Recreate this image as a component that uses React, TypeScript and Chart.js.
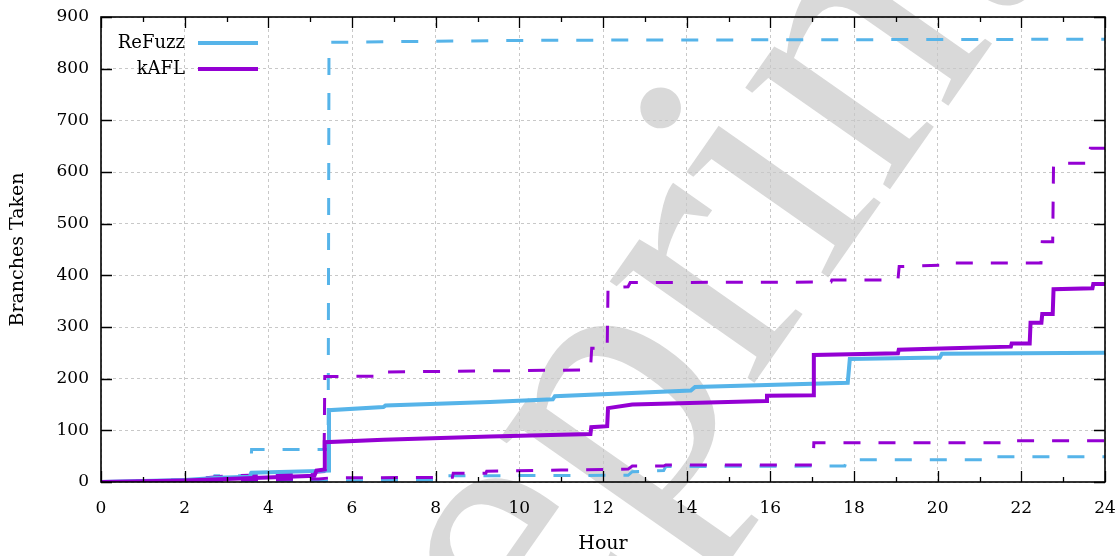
import { useEffect, useRef } from 'react';
import { Chart, registerables } from 'chart.js';

Chart.register(...registerables);

// ---- data ----
const refuzzMedianHours = [0, 1, 2, 2.8, 3.55, 3.6, 5.45, 5.45, 6.75, 6.8, 9.3, 10.8, 10.85, 14.1, 14.2, 17.85, 17.9, 20.05, 20.1, 24];
const refuzzMedianValues = [0, 2, 4, 8, 10, 18, 22, 139, 145, 148, 155, 160, 166, 177, 184, 192, 238, 241, 248, 250];

const kaflMedianHours = [0, 2, 3, 5.1, 5.15, 5.35, 5.35, 6.75, 9.3, 11.7, 11.72, 12.1, 12.12, 12.7, 15.9, 15.92, 17.02, 17.04, 19.05, 19.07, 20.3, 21.75, 21.77, 22.2, 22.22, 22.48, 22.5, 22.75, 22.77, 23.7, 23.72, 24];
const kaflMedianValues = [0, 3, 6, 12, 22, 24, 77, 82, 88, 93, 106, 108, 143, 150, 157, 167, 168, 246, 249, 256, 259, 262, 268, 268, 308, 308, 325, 325, 373, 375, 383, 383];

const refuzzMaxHours = [0, 1, 2.7, 2.72, 3.58, 3.6, 5.43, 5.45, 10.5, 24];
const refuzzMaxValues = [0, 2, 5, 12, 12, 63, 63, 851, 855, 857];

const kaflMaxHours = [0, 2, 3, 4.3, 5.33, 5.35, 6.75, 6.77, 11.7, 11.73, 12.1, 12.12, 12.6, 12.65, 17.45, 17.47, 19.05, 19.08, 20.3, 20.32, 22.47, 22.5, 22.75, 22.77, 23.62, 23.65, 24];
const kaflMaxValues = [0, 4, 12, 15, 20, 204, 205, 213, 217, 259, 259, 375, 378, 386, 387, 391, 391, 417, 420, 424, 424, 465, 465, 617, 617, 646, 646];

const refuzzMinHours = [0, 5.5, 8.2, 8.25, 12.6, 12.7, 13.45, 13.5, 17.78, 17.8, 17.98, 18, 21.18, 21.2, 24];
const refuzzMinValues = [0, 2, 4, 12, 13, 20, 22, 30, 31, 36, 36, 43, 43, 49, 49];

const kaflMinHours = [0, 3, 5.2, 5.5, 8.4, 8.42, 9.2, 9.22, 11, 12.6, 12.7, 13.45, 13.5, 17.02, 17.04, 21.7, 21.72, 24];
const kaflMinValues = [0, 4, 6, 8, 9, 17, 17, 21, 23, 25, 31, 31, 33, 33, 76, 76, 80, 80];

const xMajorTicks = [0, 2, 4, 6, 8, 10, 12, 14, 16, 18, 20, 22, 24];
const xMinorTicks = [1, 3, 5, 7, 9, 11, 13, 15, 17, 19, 21, 23];
const yTicks = [0, 100, 200, 300, 400, 500, 600, 700, 800, 900];

const legendLabels = ['ReFuzz', 'kAFL'];
const xTitle = 'Hour';
const yTitle = 'Branches Taken';
const watermarkText = 'Preprint';

const BLUE = '#56b4e9';
const PURPLE = '#9400d3';
const legendColors = [BLUE, PURPLE];

const zip = (xs: number[], ys: number[]) => xs.map((x, i) => ({ x, y: ys[i] }));

const watermarkPlugin = {
  id: 'watermark',
  beforeDraw(chart: any) {
    const ctx = chart.ctx as CanvasRenderingContext2D;
    ctx.save();
    ctx.fillStyle = '#ffffff';
    ctx.fillRect(0, 0, chart.width, chart.height);
    const S = 385;
    ctx.font = `${S}px "Liberation Serif"`;
    const th = (-55 * Math.PI) / 180;
    const c = Math.cos(th);
    const s = Math.sin(th);
    const pre = ctx.measureText('Prepr').width;
    const iw = ctx.measureText('i').width;
    const ui = pre + iw / 2;
    const dotH = 0.635 * S;
    const ox = 654 - ui * c - dotH * s;
    const oy = 100 - ui * s + dotH * c;
    ctx.translate(ox, oy);
    ctx.rotate(th);
    ctx.fillStyle = '#d9d9d9';
    ctx.textAlign = 'left';
    ctx.textBaseline = 'alphabetic';
    ctx.fillText(watermarkText, 0, 0);
    ctx.restore();
  },
};

const framePlugin = {
  id: 'frame',
  afterDraw(chart: any) {
    const ctx = chart.ctx as CanvasRenderingContext2D;
    const xs = chart.scales.x;
    const ys = chart.scales.y;
    const { left, right, top, bottom } = chart.chartArea;
    ctx.save();
    ctx.strokeStyle = '#000';
    ctx.lineWidth = 1.3;
    ctx.beginPath();
    xMajorTicks.forEach((h) => {
      const px = Math.round(xs.getPixelForValue(h)) + 0.5;
      ctx.moveTo(px, bottom);
      ctx.lineTo(px, bottom - 11);
      ctx.moveTo(px, top);
      ctx.lineTo(px, top + 11);
    });
    xMinorTicks.forEach((h) => {
      const px = Math.round(xs.getPixelForValue(h)) + 0.5;
      ctx.moveTo(px, bottom);
      ctx.lineTo(px, bottom - 5);
      ctx.moveTo(px, top);
      ctx.lineTo(px, top + 5);
    });
    yTicks.forEach((v) => {
      const py = Math.round(ys.getPixelForValue(v)) + 0.5;
      ctx.moveTo(left, py);
      ctx.lineTo(left + 11, py);
      ctx.moveTo(right, py);
      ctx.lineTo(right - 11, py);
    });
    ctx.stroke();
    ctx.lineWidth = 1.6;
    ctx.strokeRect(left, top, right - left, bottom - top);

    // legend
    ctx.font = '18px "DejaVu Serif"';
    ctx.textAlign = 'right';
    ctx.textBaseline = 'middle';
    legendLabels.forEach((lab, i) => {
      const y = 43 + i * 26;
      ctx.fillStyle = '#000';
      ctx.fillText(lab, 185, y);
      ctx.strokeStyle = legendColors[i];
      ctx.lineWidth = 4;
      ctx.beginPath();
      ctx.moveTo(198, y);
      ctx.lineTo(258, y);
      ctx.stroke();
    });
    ctx.restore();
  },
};

const zeroPad = (scale: any) => {
  scale.paddingTop = 0;
  scale.paddingBottom = 0;
  scale.paddingLeft = 0;
  scale.paddingRight = 0;
};

export default function App() {
  const ref = useRef<HTMLCanvasElement | null>(null);
  useEffect(() => {
    if (!ref.current) return;
    const dashed = [17, 18];
    const chart = new Chart(ref.current, {
      type: 'line',
      data: {
        datasets: [
          { label: 'kAFL', data: zip(kaflMedianHours, kaflMedianValues), borderColor: PURPLE, borderWidth: 4 },
          { label: 'ReFuzz', data: zip(refuzzMedianHours, refuzzMedianValues), borderColor: BLUE, borderWidth: 4 },
          { label: 'kAFL max', data: zip(kaflMaxHours, kaflMaxValues), borderColor: PURPLE, borderWidth: 3, borderDash: dashed },
          { label: 'kAFL min', data: zip(kaflMinHours, kaflMinValues), borderColor: PURPLE, borderWidth: 3, borderDash: dashed },
          { label: 'ReFuzz max', data: zip(refuzzMaxHours, refuzzMaxValues), borderColor: BLUE, borderWidth: 3, borderDash: dashed },
          { label: 'ReFuzz min', data: zip(refuzzMinHours, refuzzMinValues), borderColor: BLUE, borderWidth: 3, borderDash: dashed },
        ],
      },
      options: {
        animation: false,
        responsive: false,
        devicePixelRatio: 1,
        layout: { padding: { left: 0, right: 15, top: 17, bottom: 0 } },
        elements: {
          point: { radius: 0, hoverRadius: 0 },
          line: { tension: 0, fill: false, borderCapStyle: 'butt', borderJoinStyle: 'miter' },
        },
        plugins: { legend: { display: false }, tooltip: { enabled: false } },
        scales: {
          x: {
            type: 'linear',
            min: 0,
            max: 24,
            afterFit: (scale: any) => {
              scale.height = 74;
              zeroPad(scale);
            },
            afterBuildTicks: (scale: any) => {
              scale.ticks = xMajorTicks.map((v) => ({ value: v }));
            },
            ticks: {
              autoSkip: false,
              maxRotation: 0,
              padding: 16,
              color: '#000',
              font: { family: '"DejaVu Serif"', size: 17 },
            },
            grid: { color: '#c8c8c8', lineWidth: 1, drawTicks: false },
            border: { display: false, dash: [3, 3] },
            title: {
              display: true,
              text: xTitle,
              color: '#000',
              font: { family: '"DejaVu Serif"', size: 19 },
              padding: { top: 0, bottom: 1 },
            },
          },
          y: {
            type: 'linear',
            min: 0,
            max: 900,
            afterFit: (scale: any) => {
              scale.width = 101;
              zeroPad(scale);
            },
            afterBuildTicks: (scale: any) => {
              scale.ticks = yTicks.map((v) => ({ value: v }));
            },
            ticks: {
              padding: 12,
              color: '#000',
              font: { family: '"DejaVu Serif"', size: 17 },
            },
            grid: { color: '#c8c8c8', lineWidth: 1, drawTicks: false },
            border: { display: false, dash: [3, 3] },
            title: {
              display: true,
              text: yTitle,
              color: '#000',
              font: { family: '"DejaVu Serif"', size: 19 },
              padding: { top: 7, bottom: 0 },
            },
          },
        },
      },
      plugins: [watermarkPlugin, framePlugin],
    } as any);
    return () => chart.destroy();
  }, []);
  return (
    <div style={{ position: 'absolute', left: 0, top: 0, width: 1120, height: 556 }}>
      <canvas ref={ref} width={1120} height={556} />
    </div>
  );
}
